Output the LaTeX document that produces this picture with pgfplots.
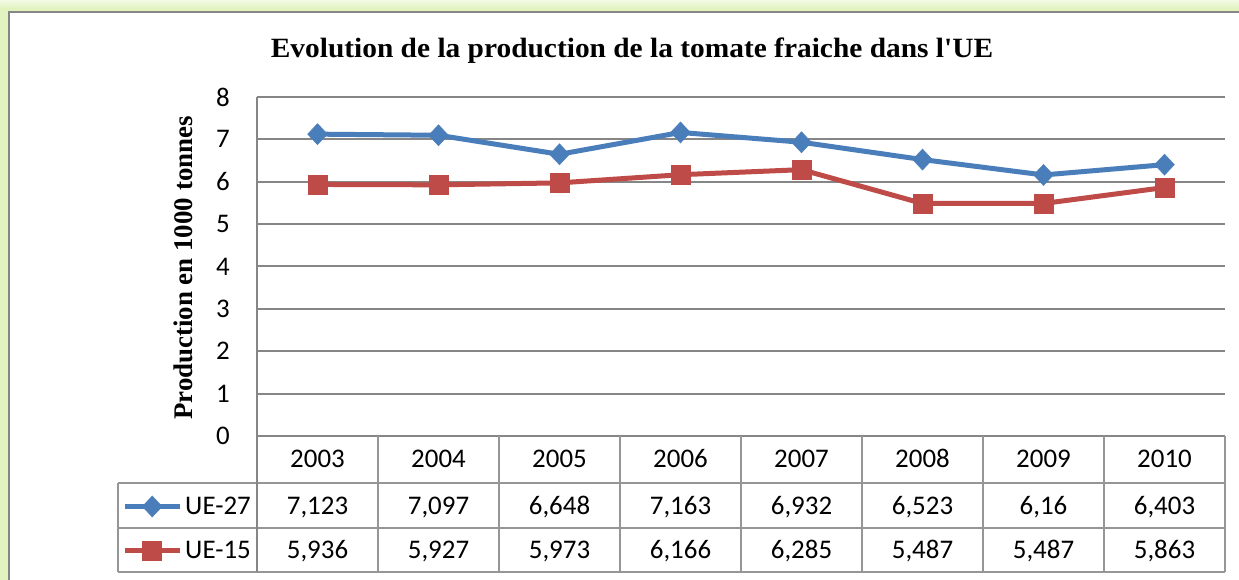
\documentclass[border=0pt]{standalone}
\usepackage{pgfplots}
\pgfplotsset{compat=1.18}
\usepackage{fontspec}
\setmainfont{Carlito}
\newfontfamily\timesfont{Liberation Serif}
\definecolor{bluel}{RGB}{74,126,187}
\definecolor{redl}{RGB}{190,75,72}
\definecolor{gridg}{RGB}{134,134,134}
\definecolor{tabg}{RGB}{150,150,150}
\definecolor{glow}{RGB}{226,243,192}
\begin{document}
\begin{tikzpicture}[x=1bp,y=1bp]
\path[use as bounding box] (0,0) rectangle (1239,580);
\begin{scope}
\clip (0,0) rectangle (1239,580);
\fill[glow] (0,0) rectangle (1239,580);
\fill[top color=white!60!glow,bottom color=glow] (0,572) rectangle (1239,580);
\fill[white, draw=gridg, line width=2bp] (9,-20) rectangle (1260,568);
\end{scope}
\begin{axis}[
  at={(257bp,144bp)}, anchor=south west,
  scale only axis, width=968bp, height=339bp,
  xmin=-0.5, xmax=7.5, ymin=0, ymax=8,
  xtick={0,...,7},
  xticklabels={2003,2004,2005,2006,2007,2008,2009,2010},
  ytick={0,...,8},
  major tick length=0pt,
  axis line style={draw=none},
  ymajorgrids,
  grid style={gridg, line width=2bp},
  /pgf/number format/assume math mode=true,
  ticklabel style={font=\fontsize{27}{27}\selectfont},
  xticklabel style={anchor=base, yshift=-32bp, inner sep=0pt},
  yticklabel style={anchor=east, inner sep=0pt, xshift=-27bp},
  clip=false,
  legend style={draw=none, fill=none, at={(-0.1425,-0.2714)}, anchor=west,
    font=\fontsize{27}{27}\selectfont, row sep=24bp, column sep=0pt,
    nodes={inner sep=0pt}},
  legend cell align=left,
  legend image code/.code={\draw[mark repeat=2,mark phase=2] plot coordinates {(0bp,0bp) (27.5bp,0bp) (55bp,0bp)};},
  /tikz/every odd column/.append style={column sep=3bp},
]
\addplot[bluel, line width=5bp, mark=diamond*, mark size=10.5bp,
  mark options={solid, fill=bluel, line width=0.5bp, xscale=1.25}]
  coordinates {(0,7.123) (1,7.097) (2,6.648) (3,7.163) (4,6.932) (5,6.523) (6,6.16) (7,6.403)};
\addlegendentry{UE-27}
\addplot[redl, line width=5bp, mark=square*, mark size=9.5bp,
  mark options={solid, fill=redl, line width=0.5bp}]
  coordinates {(0,5.936) (1,5.927) (2,5.973) (3,6.166) (4,6.285) (5,5.487) (6,5.487) (7,5.863)};
\addlegendentry{UE-15}
\end{axis}
% title and y label
\node[font=\timesfont\bfseries\fontsize{28}{28}\selectfont, xscale=1.054] at (632,529) {Evolution de la production de la tomate fraiche dans l'UE};
\node[font=\timesfont\bfseries\fontsize{27}{27}\selectfont, rotate=90] at (183,312) {Production en 1000 tonnes};
% table lines
\begin{scope}[tabg, line width=2bp]
\draw (118,97) -- (1225,97);
\draw (118,52) -- (1225,52);
\draw (118,8) -- (1225,8);
\draw (118,97) -- (118,8);
\draw[gridg] (257,483) -- (257,8);
\foreach \k in {1,...,8} \draw (257+121*\k,144) -- (257+121*\k,8);
\end{scope}
% table values
\begin{scope}[every node/.style={font=\fontsize{27}{27}\selectfont, anchor=base, inner sep=0pt}]
\node at (317.5,65.5) {7,123};
\node at (438.5,65.5) {7,097};
\node at (559.5,65.5) {6,648};
\node at (680.5,65.5) {7,163};
\node at (801.5,65.5) {6,932};
\node at (922.5,65.5) {6,523};
\node at (1043.5,65.5) {6,16};
\node at (1164.5,65.5) {6,403};
\node at (317.5,21.5) {5,936};
\node at (438.5,21.5) {5,927};
\node at (559.5,21.5) {5,973};
\node at (680.5,21.5) {6,166};
\node at (801.5,21.5) {6,285};
\node at (922.5,21.5) {5,487};
\node at (1043.5,21.5) {5,487};
\node at (1164.5,21.5) {5,863};
\end{scope}
\end{tikzpicture}
\end{document}
